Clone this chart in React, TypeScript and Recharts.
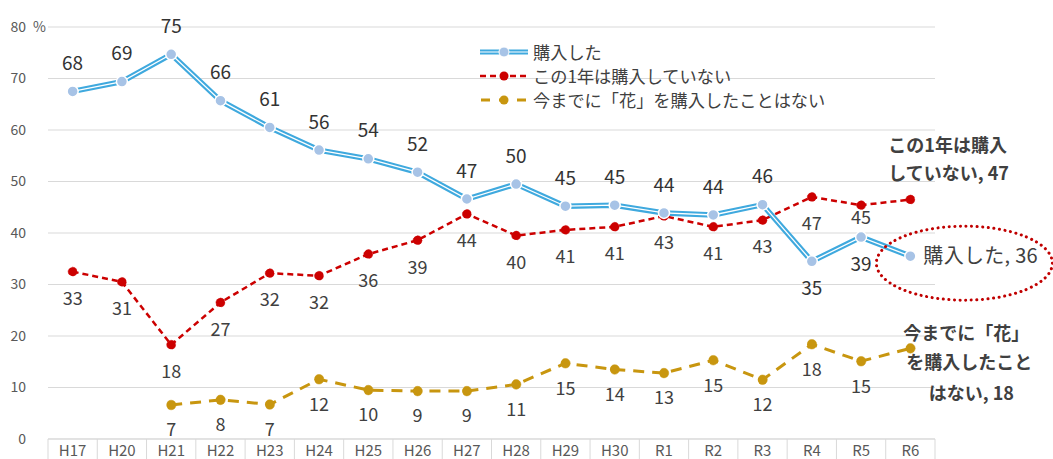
import React from 'react';
import { LineChart, Line, XAxis, YAxis, CartesianGrid, LabelList, Legend, ReferenceDot } from 'recharts';

const categories = ['H17', 'H20', 'H21', 'H22', 'H23', 'H24', 'H25', 'H26', 'H27', 'H28', 'H29', 'H30', 'R1', 'R2', 'R3', 'R4', 'R5', 'R6'];
const purchased = [67.5, 69.4, 74.7, 65.7, 60.5, 56.1, 54.4, 51.8, 46.6, 49.5, 45.2, 45.4, 43.9, 43.5, 45.5, 34.5, 39.2, 35.5];
const notThisYear = [32.5, 30.5, 18.3, 26.5, 32.2, 31.7, 35.9, 38.6, 43.7, 39.5, 40.6, 41.2, 43.3, 41.2, 42.5, 47.0, 45.4, 46.5];
const neverBought = [null, null, 6.6, 7.6, 6.7, 11.6, 9.5, 9.3, 9.3, 10.6, 14.7, 13.5, 12.8, 15.3, 11.5, 18.4, 15.1, 17.6];
const yTicks = [0, 10, 20, 30, 40, 50, 60, 70, 80];
const seriesNames = ['購入した', 'この1年は購入していない', '今までに「花」を購入したことはない'];
const redEndLines = ['この1年は購入', 'していない'];
const goldEndLines = ['今までに「花」', 'を購入したこと', 'はない'];
const blueBelow = ['R4', 'R5'];

const data = categories.map((c, i) => ({
  cat: c,
  a: purchased[i],
  b: notThisYear[i],
  c: neverBought[i],
}));

const W = 1053;
const H = 459;
const M = { top: 27, right: 118, bottom: 0, left: 0 };
const Y_W = 48;
const X_H = 20;
const PLOT_W = W - M.left - M.right - Y_W;
const STEP = PLOT_W / categories.length;
const FONT = '"Noto Sans CJK JP", "Noto Sans", sans-serif';
const LABEL_FILL = '#404040';
const BLUE = '#3fa9de';
const BLUE_DOT = '#a7c3e6';
const RED = '#cc0000';
const GOLD = '#c8960f';
const LAST = categories.length - 1;

const YTick = (p: any) => {
  const { y, payload } = p;
  return (
    <g>
      <text x={26} y={y} dy="0.35em" textAnchor="end" fontSize={14} fill="#595959" fontFamily={FONT}>
        {payload.value}
      </text>
      {payload.value === 80 ? (
        <text x={33} y={y} dy="0.35em" fontSize={14} fill="#595959" fontFamily={FONT}>%</text>
      ) : null}
    </g>
  );
};

const XTick = (p: any) => {
  const { x, y, payload, index } = p;
  return (
    <g>
      <line x1={x - STEP / 2} x2={x - STEP / 2} y1={y} y2={y + 22} stroke="#d9d9d9" strokeWidth={1} />
      {index === LAST ? (
        <line x1={x + STEP / 2} x2={x + STEP / 2} y1={y} y2={y + 22} stroke="#d9d9d9" strokeWidth={1} />
      ) : null}
      <text x={x} y={y + 12} dy="0.35em" textAnchor="middle" fontSize={15} fill="#595959" fontFamily={FONT}>
        {payload.value}
      </text>
    </g>
  );
};

const BlueLabel = (p: any) => {
  const { x, y, value, index } = p;
  if (value == null) return null;
  if (index === LAST) {
    return (
      <text x={x + 13} y={y} dy="0.35em" fontSize={20} fill={LABEL_FILL} fontFamily={FONT} letterSpacing={0.3}>
        {`${seriesNames[0]}, ${Math.round(value)}`}
      </text>
    );
  }
  const below = blueBelow.includes(categories[index]);
  return (
    <text x={x} y={below ? y + 27 : y - 28} dy="0.35em" textAnchor="middle" fontSize={19} fill="#333" fontFamily={FONT}>
      {Math.round(value)}
    </text>
  );
};

const RedLabel = (p: any) => {
  const { x, y, value, index } = p;
  if (value == null) return null;
  if (index === LAST) {
    return (
      <g fontFamily={FONT} fontSize={18} fontWeight={700} fill={LABEL_FILL}>
        <text x={x - 22} y={y - 54} dy="0.35em">{redEndLines[0]}</text>
        <text x={x - 22} y={y - 26} dy="0.35em">{`${redEndLines[1]}, ${Math.round(value)}`}</text>
      </g>
    );
  }
  const off = categories[index] === 'R5' ? 13 : 27;
  return (
    <text x={x} y={y + off} dy="0.35em" textAnchor="middle" fontSize={18} fill={LABEL_FILL} fontFamily={FONT}>
      {Math.round(value)}
    </text>
  );
};

const GoldLabel = (p: any) => {
  const { x, y, value, index } = p;
  if (value == null) return null;
  if (index === LAST) {
    return (
      <g fontFamily={FONT} fontSize={18} fontWeight={700} fill={LABEL_FILL} textAnchor="middle">
        <text x={x + 56} y={y - 15} dy="0.35em">{goldEndLines[0]}</text>
        <text x={x + 59} y={y + 14} dy="0.35em">{goldEndLines[1]}</text>
        <text x={x + 61} y={y + 45} dy="0.35em">{`${goldEndLines[2]}, ${Math.round(value)}`}</text>
      </g>
    );
  }
  return (
    <text x={x} y={y + 25} dy="0.35em" textAnchor="middle" fontSize={18} fill={LABEL_FILL} fontFamily={FONT}>
      {Math.round(value)}
    </text>
  );
};

const LegendContent = () => {
  const rowH = 24;
  return (
    <div style={{ fontFamily: FONT, fontSize: 17.2, color: LABEL_FILL, lineHeight: `${rowH}px` }}>
      {seriesNames.map((name, i) => (
        <div key={name} style={{ display: 'flex', alignItems: 'center', height: rowH }}>
          <svg width={52} height={rowH} style={{ marginRight: 3 }}>
            {i === 0 ? (
              <g>
                <line x1={2} x2={50} y1={12} y2={12} stroke={BLUE} strokeWidth={5} />
                <line x1={2} x2={50} y1={12} y2={12} stroke="#fff" strokeWidth={1.2} />
                <circle cx={26} cy={12} r={5} fill={BLUE_DOT} stroke="#fff" strokeWidth={1} />
              </g>
            ) : i === 1 ? (
              <g>
                <line x1={2} x2={50} y1={12} y2={12} stroke={RED} strokeWidth={2.5} strokeDasharray="6 4" />
                <circle cx={26} cy={12} r={4.5} fill={RED} />
              </g>
            ) : (
              <g>
                <line x1={2} x2={50} y1={12} y2={12} stroke={GOLD} strokeWidth={3} strokeDasharray="9 9" strokeDashoffset={-1} />
                <circle cx={26} cy={12} r={4.5} fill={GOLD} />
              </g>
            )}
          </svg>
          <span>{name}</span>
        </div>
      ))}
    </div>
  );
};

const EllipseShape = (p: any) => {
  const { cx, cy } = p;
  if (cx == null || cy == null) return null;
  return (
    <ellipse
      cx={cx + 54}
      cy={cy + 7}
      rx={88}
      ry={37}
      fill="none"
      stroke="#c00000"
      strokeWidth={3}
      strokeDasharray="0.1 5.5"
      strokeLinecap="round"
    />
  );
};

export default function App() {
  return (
    <div style={{ position: 'absolute', left: 0, top: 0, width: W, height: H, background: '#fff' }}>
      <LineChart width={W} height={H} data={data} margin={M}>
        <CartesianGrid horizontal vertical={false} stroke="#d9d9d9" strokeWidth={1} />
        <XAxis
          dataKey="cat"
          height={X_H}
          axisLine={{ stroke: '#d9d9d9' }}
          tickLine={false}
          tickSize={0}
          tickMargin={0}
          interval={0}
          padding={{ left: STEP / 2, right: STEP / 2 }}
          tick={<XTick />}
        />
        <YAxis
          width={Y_W}
          domain={[0, 80]}
          ticks={yTicks}
          axisLine={false}
          tickLine={false}
          tick={<YTick />}
          interval={0}
        />
        <Legend
          layout="vertical"
          align="center"
          verticalAlign="middle"
          content={<LegendContent />}
          wrapperStyle={{ position: 'absolute', left: 478, top: 40, width: 370 }}
        />
        <Line
          type="linear"
          dataKey="b"
          name={seriesNames[1]}
          stroke={RED}
          strokeWidth={2.5}
          strokeDasharray="6 4"
          dot={{ r: 4.5, fill: RED, stroke: RED, strokeWidth: 0.5 }}
          activeDot={false}
          isAnimationActive={false}
        >
          <LabelList dataKey="b" content={<RedLabel />} />
        </Line>
        <Line
          type="linear"
          dataKey="c"
          name={seriesNames[2]}
          stroke={GOLD}
          strokeWidth={3}
          strokeDasharray="11 8"
          dot={{ r: 4.8, fill: GOLD, stroke: GOLD, strokeWidth: 0.5 }}
          activeDot={false}
          connectNulls={false}
          isAnimationActive={false}
        >
          <LabelList dataKey="c" content={<GoldLabel />} />
        </Line>
        <Line
          type="linear"
          dataKey="a"
          name={seriesNames[0]}
          stroke={BLUE}
          strokeWidth={5.5}
          dot={false}
          activeDot={false}
          legendType="none"
          isAnimationActive={false}
        />
        <Line
          type="linear"
          dataKey="a"
          name={seriesNames[0] + ' '}
          stroke="#ffffff"
          strokeWidth={1.3}
          dot={{ r: 5.5, fill: BLUE_DOT, stroke: '#fff', strokeWidth: 1.5 }}
          activeDot={false}
          legendType="none"
          isAnimationActive={false}
        >
          <LabelList dataKey="a" content={<BlueLabel />} />
        </Line>
        <ReferenceDot x="R6" y={purchased[LAST]} ifOverflow="visible" shape={<EllipseShape />} />
      </LineChart>
    </div>
  );
}
